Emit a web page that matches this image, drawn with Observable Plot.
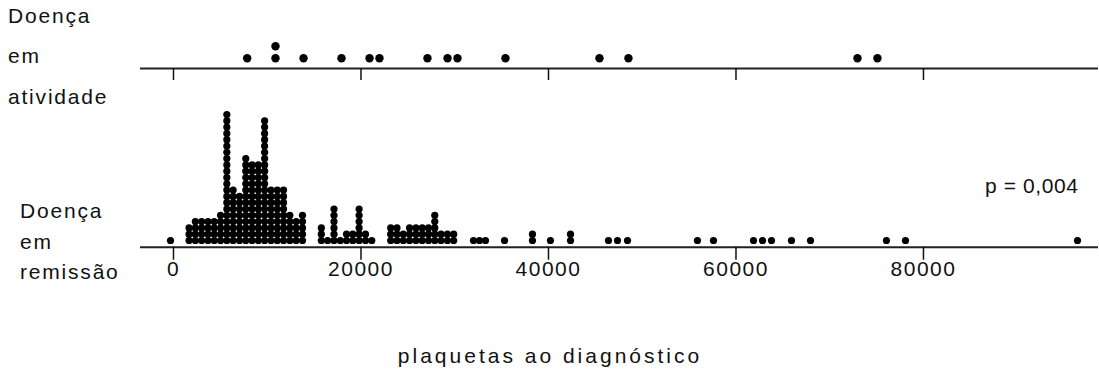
<!DOCTYPE html>
<html>
<head>
<meta charset="utf-8">
<script src="https://cdn.jsdelivr.net/npm/d3@7"></script>
<script src="https://cdn.jsdelivr.net/npm/@observablehq/plot@0.6"></script>
<style>
  html, body { margin: 0; padding: 0; background: #fff; }
  #chart { position: relative; width: 1099px; height: 382px; overflow: hidden;
           font-family: "Liberation Sans", Arial, sans-serif; color: #111; }
  #chart svg { position: absolute; left: 0; }
  #chart svg text { letter-spacing: 1.5px; }
  .lbl { position: absolute; font-size: 21px; line-height: 21px; white-space: nowrap; color: #111; letter-spacing: 1.8px; }
</style>
</head>
<body>
<div id="chart"></div>
<script>
// ---- data ----
const groupLabels = [["Doença", "em", "atividade"], ["Doença", "em", "remissão"]];
// platelet counts, "Doença em atividade"
const activeValues = [7860, 10880, 10880, 13870, 17920, 20910, 21970, 27090, 29230, 30290,
                      35410, 45440, 48530, 72960, 75090];
// binned platelet counts, "Doença em remissão" (bin value and number of stacked dots)
const remissionBins = [-320, 1660, 2330, 3000, 3680, 4350, 5020, 5690, 6360, 7040, 7710, 8380,
                       9050, 9720, 10400, 11070, 11740, 12410, 13080, 13760,
                       15770, 16440, 17120, 17790, 18460, 19130, 19800, 20480, 21150,
                       23170, 23840, 24510, 25180, 25860, 26530, 27200, 27870, 28540, 29220, 29890,
                       32000, 32640, 33280, 35310, 38290, 40210, 42350, 46400, 47360, 48430,
                       55890, 57600, 61870, 62830, 63790, 65920, 67950, 76050, 78080, 96430];
const remissionCounts = [1, 3, 4, 4, 4, 4, 5, 21, 9, 8, 14, 13, 13, 20, 9, 9, 9, 5, 4, 5,
                         3, 1, 6, 1, 2, 2, 6, 2, 1,
                         3, 3, 2, 3, 3, 3, 3, 5, 2, 2, 2,
                         1, 1, 1, 1, 2, 1, 2, 1, 1, 1,
                         1, 1, 1, 1, 1, 1, 1, 1, 1, 1];
const xTicks = [0, 20000, 40000, 60000, 80000];
const xTitle = "plaquetas ao diagnóstico";
const pText = "p = 0,004";

// ---- build stacked dot tables ----
const activeDots = activeValues.map((v, i) => ({value: v, row: activeValues.slice(0, i).filter(u => u === v).length}));
const remissionDots = remissionBins.flatMap((v, i) => d3.range(remissionCounts[i]).map(row => ({value: v, row})));

const xDomain = [-3520, 98670];
const font = '"Liberation Sans", Arial, sans-serif';
const chart = document.getElementById("chart");

// top panel
const topY = [-0.858, 4.81];
const topPlot = Plot.plot({
  width: 1099, height: 100,
  marginLeft: 140, marginRight: 1, marginTop: 0, marginBottom: 32,
  style: {background: "transparent", fontFamily: font, fontSize: "21px", color: "#111"},
  x: {domain: xDomain, axis: null},
  y: {domain: topY, axis: null},
  marks: [
    Plot.ruleY([topY[0]], {stroke: "#222", strokeWidth: 2}),
    Plot.axisX({ticks: xTicks, tickSize: 12, tickFormat: () => "", stroke: "#111", strokeWidth: 1.5, label: null}),
    Plot.dot(activeDots, {x: "value", y: "row", r: 4.2, fill: "#000", stroke: "none"})
  ]
});
topPlot.style.top = "0px";
chart.appendChild(topPlot);

// bottom panel
const botY = [-1.063, 22.22];
const botPlot = Plot.plot({
  width: 1099, height: 282,
  marginLeft: 140, marginRight: 1, marginTop: 0, marginBottom: 135.3,
  style: {background: "transparent", fontFamily: font, fontSize: "21px", color: "#111"},
  x: {domain: xDomain, axis: null},
  y: {domain: botY, axis: null},
  marks: [
    Plot.ruleY([botY[0]], {stroke: "#222", strokeWidth: 2}),
    Plot.axisX({ticks: xTicks, tickSize: 13, tickPadding: 1, tickFormat: d3.format("d"),
                stroke: "#111", strokeWidth: 1.5, fill: "#111", label: null, fontSize: 21}),
    Plot.dot(remissionDots, {x: "value", y: "row", r: 3.6, fill: "#000", stroke: "none"})
  ]
});
botPlot.style.top = "100px";
chart.appendChild(botPlot);

// text labels (HTML), positioned by baseline
function addLabel(text, left, baseline) {
  const d = document.createElement("div");
  d.className = "lbl";
  d.textContent = text;
  d.style.left = left + "px";
  d.style.top = (baseline - 18) + "px";
  chart.appendChild(d);
  return d;
}
const labelLeft = [8, 20];
const labelBaselines = [[23, 63, 104], [218, 249, 279]];
groupLabels.forEach((lines, g) => lines.forEach((t, j) => addLabel(t, labelLeft[g], labelBaselines[g][j])));
const pl = addLabel(pText, 985, 193);
pl.style.letterSpacing = "0.6px";
const tt = addLabel(xTitle, 550, 363);
tt.style.transform = "translateX(-50%)";
tt.style.letterSpacing = "3px";
</script>
</body>
</html>
